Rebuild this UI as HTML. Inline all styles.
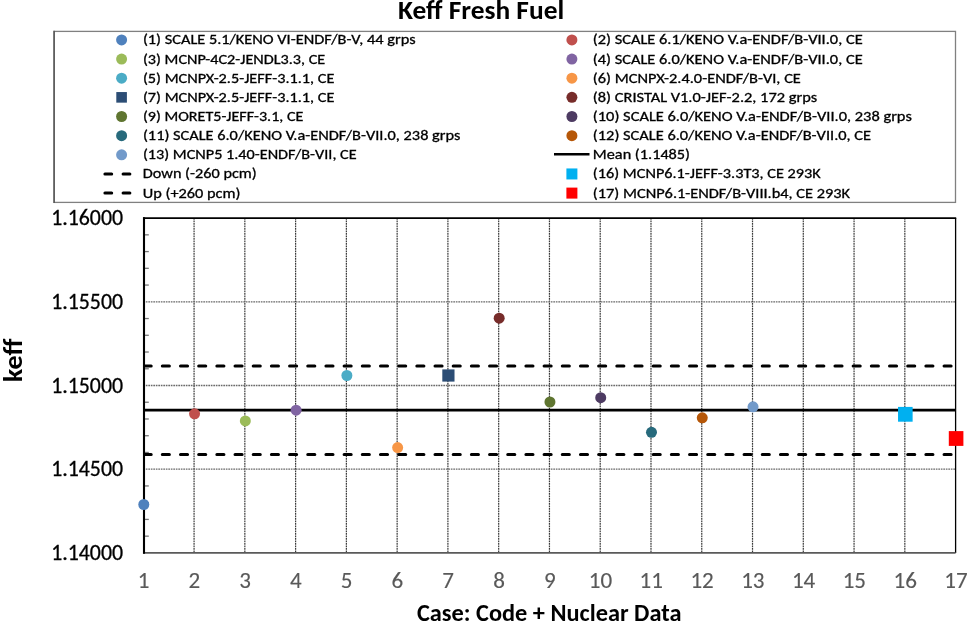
<!DOCTYPE html>
<html><head><meta charset="utf-8"><title>Keff Fresh Fuel</title><style>html,body{margin:0;padding:0;background:#fff;width:969px;height:624px;overflow:hidden}</style></head><body>
<svg width="969" height="624" viewBox="0 0 969 624" style="display:block">
<rect width="969" height="624" fill="#fff"/>
<rect x="54.1" y="31.4" width="901.4" height="171" fill="none" stroke="#808080" stroke-width="1.3"/>
<line x1="54.1" y1="30.8" x2="54.1" y2="203" stroke="#505050" stroke-width="1.4"/>
<circle cx="121.60" cy="39.90" r="5.5" fill="#4F81BD"/>
<circle cx="121.60" cy="59.05" r="5.5" fill="#9BBB59"/>
<circle cx="121.60" cy="78.20" r="5.5" fill="#4BACC6"/>
<rect x="116.30" y="92.05" width="10.6" height="10.6" fill="#2C4D75"/>
<circle cx="121.60" cy="116.50" r="5.5" fill="#5F7530"/>
<circle cx="121.60" cy="135.65" r="5.5" fill="#276A7C"/>
<circle cx="121.60" cy="154.80" r="5.5" fill="#729ACA"/>
<line x1="104.1" y1="173.95" x2="139.6" y2="173.95" stroke="#000" stroke-width="3" stroke-dasharray="6.8 11.38" stroke-dashoffset="-0.8" stroke-linecap="round"/>
<line x1="104.1" y1="193.10" x2="139.6" y2="193.10" stroke="#000" stroke-width="3" stroke-dasharray="6.8 11.38" stroke-dashoffset="-0.8" stroke-linecap="round"/>
<circle cx="571.90" cy="39.90" r="5.5" fill="#C0504D"/>
<circle cx="571.90" cy="59.05" r="5.5" fill="#8064A2"/>
<circle cx="571.90" cy="78.20" r="5.5" fill="#F79646"/>
<circle cx="571.90" cy="97.35" r="5.5" fill="#772C2A"/>
<circle cx="571.90" cy="116.50" r="5.5" fill="#4D3B62"/>
<circle cx="571.90" cy="135.65" r="5.5" fill="#B65708"/>
<line x1="554" y1="154.30" x2="589.5" y2="154.30" stroke="#000" stroke-width="2.6"/>
<rect x="566.40" y="168.45" width="11" height="11" fill="#00B0F0"/>
<rect x="566.40" y="187.60" width="11" height="11" fill="#FF0000"/>
<line x1="194.07" y1="218.10" x2="194.07" y2="552.90" stroke="#3a3a3a" stroke-width="1.2" stroke-dasharray="1.7 0.8"/>
<line x1="244.84" y1="218.10" x2="244.84" y2="552.90" stroke="#3a3a3a" stroke-width="1.2" stroke-dasharray="1.7 0.8"/>
<line x1="295.61" y1="218.10" x2="295.61" y2="552.90" stroke="#3a3a3a" stroke-width="1.2" stroke-dasharray="1.7 0.8"/>
<line x1="346.38" y1="218.10" x2="346.38" y2="552.90" stroke="#3a3a3a" stroke-width="1.2" stroke-dasharray="1.7 0.8"/>
<line x1="397.14" y1="218.10" x2="397.14" y2="552.90" stroke="#3a3a3a" stroke-width="1.2" stroke-dasharray="1.7 0.8"/>
<line x1="447.91" y1="218.10" x2="447.91" y2="552.90" stroke="#3a3a3a" stroke-width="1.2" stroke-dasharray="1.7 0.8"/>
<line x1="498.68" y1="218.10" x2="498.68" y2="552.90" stroke="#3a3a3a" stroke-width="1.2" stroke-dasharray="1.7 0.8"/>
<line x1="549.45" y1="218.10" x2="549.45" y2="552.90" stroke="#3a3a3a" stroke-width="1.2" stroke-dasharray="1.7 0.8"/>
<line x1="600.22" y1="218.10" x2="600.22" y2="552.90" stroke="#3a3a3a" stroke-width="1.2" stroke-dasharray="1.7 0.8"/>
<line x1="650.99" y1="218.10" x2="650.99" y2="552.90" stroke="#3a3a3a" stroke-width="1.2" stroke-dasharray="1.7 0.8"/>
<line x1="701.76" y1="218.10" x2="701.76" y2="552.90" stroke="#3a3a3a" stroke-width="1.2" stroke-dasharray="1.7 0.8"/>
<line x1="752.52" y1="218.10" x2="752.52" y2="552.90" stroke="#3a3a3a" stroke-width="1.2" stroke-dasharray="1.7 0.8"/>
<line x1="803.29" y1="218.10" x2="803.29" y2="552.90" stroke="#3a3a3a" stroke-width="1.2" stroke-dasharray="1.7 0.8"/>
<line x1="854.06" y1="218.10" x2="854.06" y2="552.90" stroke="#3a3a3a" stroke-width="1.2" stroke-dasharray="1.7 0.8"/>
<line x1="904.83" y1="218.10" x2="904.83" y2="552.90" stroke="#3a3a3a" stroke-width="1.2" stroke-dasharray="1.7 0.8"/>
<line x1="143.30" y1="301.80" x2="955.60" y2="301.80" stroke="#6a6a6a" stroke-width="1.3" stroke-dasharray="1.7 0.8"/>
<line x1="143.30" y1="385.50" x2="955.60" y2="385.50" stroke="#6a6a6a" stroke-width="1.3" stroke-dasharray="1.7 0.8"/>
<line x1="143.30" y1="469.20" x2="955.60" y2="469.20" stroke="#6a6a6a" stroke-width="1.3" stroke-dasharray="1.7 0.8"/>
<line x1="144" y1="234.84" x2="148.8" y2="234.84" stroke="#777" stroke-width="1.3"/>
<line x1="144" y1="251.58" x2="148.8" y2="251.58" stroke="#777" stroke-width="1.3"/>
<line x1="144" y1="268.32" x2="148.8" y2="268.32" stroke="#777" stroke-width="1.3"/>
<line x1="144" y1="285.06" x2="148.8" y2="285.06" stroke="#777" stroke-width="1.3"/>
<line x1="144" y1="318.54" x2="148.8" y2="318.54" stroke="#777" stroke-width="1.3"/>
<line x1="144" y1="335.28" x2="148.8" y2="335.28" stroke="#777" stroke-width="1.3"/>
<line x1="144" y1="352.02" x2="148.8" y2="352.02" stroke="#777" stroke-width="1.3"/>
<line x1="144" y1="368.76" x2="148.8" y2="368.76" stroke="#777" stroke-width="1.3"/>
<line x1="144" y1="402.24" x2="148.8" y2="402.24" stroke="#777" stroke-width="1.3"/>
<line x1="144" y1="418.98" x2="148.8" y2="418.98" stroke="#777" stroke-width="1.3"/>
<line x1="144" y1="435.72" x2="148.8" y2="435.72" stroke="#777" stroke-width="1.3"/>
<line x1="144" y1="452.46" x2="148.8" y2="452.46" stroke="#777" stroke-width="1.3"/>
<line x1="144" y1="485.94" x2="148.8" y2="485.94" stroke="#777" stroke-width="1.3"/>
<line x1="144" y1="502.68" x2="148.8" y2="502.68" stroke="#777" stroke-width="1.3"/>
<line x1="144" y1="519.42" x2="148.8" y2="519.42" stroke="#777" stroke-width="1.3"/>
<line x1="144" y1="536.16" x2="148.8" y2="536.16" stroke="#777" stroke-width="1.3"/>
<line x1="143" y1="218.10" x2="956.20" y2="218.10" stroke="#000" stroke-width="1.8"/>
<line x1="955.60" y1="218.10" x2="955.60" y2="552.90" stroke="#000" stroke-width="1.3"/>
<line x1="143" y1="552.90" x2="955.60" y2="552.90" stroke="#5a5a5a" stroke-width="1.9"/>
<line x1="144" y1="217.20" x2="144" y2="553.80" stroke="#000" stroke-width="2.1"/>
<line x1="145" y1="410.1" x2="955.60" y2="410.1" stroke="#000" stroke-width="2.7"/>
<line x1="145.2" y1="366.0" x2="954.10" y2="366.0" stroke="#000" stroke-width="3.1" stroke-dasharray="7.0 11.18" stroke-dashoffset="1.03" stroke-linecap="round"/>
<line x1="145.2" y1="454.5" x2="954.10" y2="454.5" stroke="#000" stroke-width="3.1" stroke-dasharray="7.0 11.18" stroke-dashoffset="1.03" stroke-linecap="round"/>
<circle cx="143.80" cy="504.50" r="5.5" fill="#4F81BD"/>
<circle cx="194.57" cy="413.80" r="5.5" fill="#C0504D"/>
<circle cx="245.34" cy="420.90" r="5.5" fill="#9BBB59"/>
<circle cx="296.11" cy="410.20" r="5.5" fill="#8064A2"/>
<circle cx="346.88" cy="375.50" r="5.5" fill="#4BACC6"/>
<circle cx="397.64" cy="447.60" r="5.5" fill="#F79646"/>
<rect x="442.31" y="369.40" width="12.2" height="12.2" fill="#2C4D75"/>
<circle cx="499.18" cy="318.20" r="5.5" fill="#772C2A"/>
<circle cx="549.95" cy="402.00" r="5.5" fill="#5F7530"/>
<circle cx="600.72" cy="397.70" r="5.5" fill="#4D3B62"/>
<circle cx="651.49" cy="432.30" r="5.5" fill="#276A7C"/>
<circle cx="702.26" cy="417.80" r="5.5" fill="#B65708"/>
<circle cx="753.02" cy="406.80" r="5.5" fill="#729ACA"/>
<rect x="898.03" y="406.90" width="14.6" height="14.8" fill="#00B0F0"/>
<rect x="948.80" y="431.10" width="14.6" height="14.8" fill="#FF0000"/>
<text x="397.96" y="19.10" textLength="166.24" lengthAdjust="spacingAndGlyphs" font-family="Carlito, 'Liberation Sans', sans-serif" font-weight="bold" font-size="26.67" fill="#000">Keff Fresh Fuel</text>
<text x="142.92" y="44.40" textLength="272.64" lengthAdjust="spacingAndGlyphs" font-family="Carlito, 'Liberation Sans', sans-serif" font-weight="normal" font-size="14.67" fill="#000" stroke="#000" stroke-width="0.3">(1) SCALE 5.1/KENO VI-ENDF/B-V, 44 grps</text>
<text x="142.92" y="63.55" textLength="182.32" lengthAdjust="spacingAndGlyphs" font-family="Carlito, 'Liberation Sans', sans-serif" font-weight="normal" font-size="14.67" fill="#000" stroke="#000" stroke-width="0.3">(3) MCNP-4C2-JENDL3.3, CE</text>
<text x="142.92" y="82.70" textLength="191.54" lengthAdjust="spacingAndGlyphs" font-family="Carlito, 'Liberation Sans', sans-serif" font-weight="normal" font-size="14.67" fill="#000" stroke="#000" stroke-width="0.3">(5) MCNPX-2.5-JEFF-3.1.1, CE</text>
<text x="142.92" y="101.85" textLength="191.54" lengthAdjust="spacingAndGlyphs" font-family="Carlito, 'Liberation Sans', sans-serif" font-weight="normal" font-size="14.67" fill="#000" stroke="#000" stroke-width="0.3">(7) MCNPX-2.5-JEFF-3.1.1, CE</text>
<text x="142.93" y="121.00" textLength="160.48" lengthAdjust="spacingAndGlyphs" font-family="Carlito, 'Liberation Sans', sans-serif" font-weight="normal" font-size="14.67" fill="#000" stroke="#000" stroke-width="0.3">(9) MORET5-JEFF-3.1, CE</text>
<text x="142.92" y="140.15" textLength="317.46" lengthAdjust="spacingAndGlyphs" font-family="Carlito, 'Liberation Sans', sans-serif" font-weight="normal" font-size="14.67" fill="#000" stroke="#000" stroke-width="0.3">(11) SCALE 6.0/KENO V.a-ENDF/B-VII.0, 238 grps</text>
<text x="142.92" y="159.30" textLength="213.78" lengthAdjust="spacingAndGlyphs" font-family="Carlito, 'Liberation Sans', sans-serif" font-weight="normal" font-size="14.67" fill="#000" stroke="#000" stroke-width="0.3">(13) MCNP5 1.40-ENDF/B-VII, CE</text>
<text x="142.82" y="178.45" textLength="113.89" lengthAdjust="spacingAndGlyphs" font-family="Carlito, 'Liberation Sans', sans-serif" font-weight="normal" font-size="14.67" fill="#000" stroke="#000" stroke-width="0.3">Down (-260 pcm)</text>
<text x="142.82" y="197.60" textLength="97.64" lengthAdjust="spacingAndGlyphs" font-family="Carlito, 'Liberation Sans', sans-serif" font-weight="normal" font-size="14.67" fill="#000" stroke="#000" stroke-width="0.3">Up (+260 pcm)</text>
<text x="592.84" y="44.40" textLength="269.81" lengthAdjust="spacingAndGlyphs" font-family="Carlito, 'Liberation Sans', sans-serif" font-weight="normal" font-size="14.67" fill="#000" stroke="#000" stroke-width="0.3">(2) SCALE 6.1/KENO V.a-ENDF/B-VII.0, CE</text>
<text x="592.84" y="63.55" textLength="269.81" lengthAdjust="spacingAndGlyphs" font-family="Carlito, 'Liberation Sans', sans-serif" font-weight="normal" font-size="14.67" fill="#000" stroke="#000" stroke-width="0.3">(4) SCALE 6.0/KENO V.a-ENDF/B-VII.0, CE</text>
<text x="592.85" y="82.70" textLength="208.00" lengthAdjust="spacingAndGlyphs" font-family="Carlito, 'Liberation Sans', sans-serif" font-weight="normal" font-size="14.67" fill="#000" stroke="#000" stroke-width="0.3">(6) MCNPX-2.4.0-ENDF/B-VI, CE</text>
<text x="592.84" y="101.85" textLength="224.29" lengthAdjust="spacingAndGlyphs" font-family="Carlito, 'Liberation Sans', sans-serif" font-weight="normal" font-size="14.67" fill="#000" stroke="#000" stroke-width="0.3">(8) CRISTAL V1.0-JEF-2.2, 172 grps</text>
<text x="592.84" y="121.00" textLength="318.98" lengthAdjust="spacingAndGlyphs" font-family="Carlito, 'Liberation Sans', sans-serif" font-weight="normal" font-size="14.67" fill="#000" stroke="#000" stroke-width="0.3">(10) SCALE 6.0/KENO V.a-ENDF/B-VII.0, 238 grps</text>
<text x="592.84" y="140.15" textLength="278.29" lengthAdjust="spacingAndGlyphs" font-family="Carlito, 'Liberation Sans', sans-serif" font-weight="normal" font-size="14.67" fill="#000" stroke="#000" stroke-width="0.3">(12) SCALE 6.0/KENO V.a-ENDF/B-VII.0, CE</text>
<text x="592.85" y="159.30" textLength="97.20" lengthAdjust="spacingAndGlyphs" font-family="Carlito, 'Liberation Sans', sans-serif" font-weight="normal" font-size="14.67" fill="#000" stroke="#000" stroke-width="0.3">Mean (1.1485)</text>
<text x="592.86" y="178.45" textLength="227.82" lengthAdjust="spacingAndGlyphs" font-family="Carlito, 'Liberation Sans', sans-serif" font-weight="normal" font-size="14.67" fill="#000" stroke="#000" stroke-width="0.3">(16) MCNP6.1-JEFF-3.3T3, CE 293K</text>
<text x="592.85" y="197.60" textLength="257.21" lengthAdjust="spacingAndGlyphs" font-family="Carlito, 'Liberation Sans', sans-serif" font-weight="normal" font-size="14.67" fill="#000" stroke="#000" stroke-width="0.3">(17) MCNP6.1-ENDF/B-VIII.b4, CE 293K</text>
<text x="51.16" y="225.30" textLength="71.89" lengthAdjust="spacingAndGlyphs" font-family="Carlito, 'Liberation Sans', sans-serif" font-weight="normal" font-size="23.2" fill="#000" stroke="#000" stroke-width="0.3">1.16000</text>
<text x="51.16" y="309.00" textLength="71.89" lengthAdjust="spacingAndGlyphs" font-family="Carlito, 'Liberation Sans', sans-serif" font-weight="normal" font-size="23.2" fill="#000" stroke="#000" stroke-width="0.3">1.15500</text>
<text x="51.16" y="392.70" textLength="71.89" lengthAdjust="spacingAndGlyphs" font-family="Carlito, 'Liberation Sans', sans-serif" font-weight="normal" font-size="23.2" fill="#000" stroke="#000" stroke-width="0.3">1.15000</text>
<text x="51.16" y="476.40" textLength="71.89" lengthAdjust="spacingAndGlyphs" font-family="Carlito, 'Liberation Sans', sans-serif" font-weight="normal" font-size="23.2" fill="#000" stroke="#000" stroke-width="0.3">1.14500</text>
<text x="51.16" y="560.10" textLength="71.89" lengthAdjust="spacingAndGlyphs" font-family="Carlito, 'Liberation Sans', sans-serif" font-weight="normal" font-size="23.2" fill="#000" stroke="#000" stroke-width="0.3">1.14000</text>
<text x="416.98" y="620.90" textLength="264.46" lengthAdjust="spacingAndGlyphs" font-family="Carlito, 'Liberation Sans', sans-serif" font-weight="bold" font-size="24" fill="#000">Case: Code + Nuclear Data</text>
<text transform="translate(143.60,588.4) scale(1.02,1)" text-anchor="middle" font-family="Carlito, 'Liberation Sans', sans-serif" font-size="22.6" fill="#595959" stroke="#595959" stroke-width="0.15">1</text>
<text transform="translate(194.37,588.4) scale(1.02,1)" text-anchor="middle" font-family="Carlito, 'Liberation Sans', sans-serif" font-size="22.6" fill="#595959" stroke="#595959" stroke-width="0.15">2</text>
<text transform="translate(245.14,588.4) scale(1.02,1)" text-anchor="middle" font-family="Carlito, 'Liberation Sans', sans-serif" font-size="22.6" fill="#595959" stroke="#595959" stroke-width="0.15">3</text>
<text transform="translate(295.91,588.4) scale(1.02,1)" text-anchor="middle" font-family="Carlito, 'Liberation Sans', sans-serif" font-size="22.6" fill="#595959" stroke="#595959" stroke-width="0.15">4</text>
<text transform="translate(346.68,588.4) scale(1.02,1)" text-anchor="middle" font-family="Carlito, 'Liberation Sans', sans-serif" font-size="22.6" fill="#595959" stroke="#595959" stroke-width="0.15">5</text>
<text transform="translate(397.44,588.4) scale(1.02,1)" text-anchor="middle" font-family="Carlito, 'Liberation Sans', sans-serif" font-size="22.6" fill="#595959" stroke="#595959" stroke-width="0.15">6</text>
<text transform="translate(448.21,588.4) scale(1.02,1)" text-anchor="middle" font-family="Carlito, 'Liberation Sans', sans-serif" font-size="22.6" fill="#595959" stroke="#595959" stroke-width="0.15">7</text>
<text transform="translate(498.98,588.4) scale(1.02,1)" text-anchor="middle" font-family="Carlito, 'Liberation Sans', sans-serif" font-size="22.6" fill="#595959" stroke="#595959" stroke-width="0.15">8</text>
<text transform="translate(549.75,588.4) scale(1.02,1)" text-anchor="middle" font-family="Carlito, 'Liberation Sans', sans-serif" font-size="22.6" fill="#595959" stroke="#595959" stroke-width="0.15">9</text>
<text transform="translate(600.52,588.4) scale(1.02,1)" text-anchor="middle" font-family="Carlito, 'Liberation Sans', sans-serif" font-size="22.6" fill="#595959" stroke="#595959" stroke-width="0.15">10</text>
<text transform="translate(651.29,588.4) scale(1.02,1)" text-anchor="middle" font-family="Carlito, 'Liberation Sans', sans-serif" font-size="22.6" fill="#595959" stroke="#595959" stroke-width="0.15">11</text>
<text transform="translate(702.06,588.4) scale(1.02,1)" text-anchor="middle" font-family="Carlito, 'Liberation Sans', sans-serif" font-size="22.6" fill="#595959" stroke="#595959" stroke-width="0.15">12</text>
<text transform="translate(752.82,588.4) scale(1.02,1)" text-anchor="middle" font-family="Carlito, 'Liberation Sans', sans-serif" font-size="22.6" fill="#595959" stroke="#595959" stroke-width="0.15">13</text>
<text transform="translate(803.59,588.4) scale(1.02,1)" text-anchor="middle" font-family="Carlito, 'Liberation Sans', sans-serif" font-size="22.6" fill="#595959" stroke="#595959" stroke-width="0.15">14</text>
<text transform="translate(854.36,588.4) scale(1.02,1)" text-anchor="middle" font-family="Carlito, 'Liberation Sans', sans-serif" font-size="22.6" fill="#595959" stroke="#595959" stroke-width="0.15">15</text>
<text transform="translate(905.13,588.4) scale(1.02,1)" text-anchor="middle" font-family="Carlito, 'Liberation Sans', sans-serif" font-size="22.6" fill="#595959" stroke="#595959" stroke-width="0.15">16</text>
<text transform="translate(955.90,588.4) scale(1.02,1)" text-anchor="middle" font-family="Carlito, 'Liberation Sans', sans-serif" font-size="22.6" fill="#595959" stroke="#595959" stroke-width="0.15">17</text>
<text transform="translate(22.0,360.50) rotate(-90)" text-anchor="middle" textLength="43.51" lengthAdjust="spacingAndGlyphs" font-family="Carlito, 'Liberation Sans', sans-serif" font-weight="bold" font-size="26.67" fill="#000">keff</text>
</svg>
</body></html>
